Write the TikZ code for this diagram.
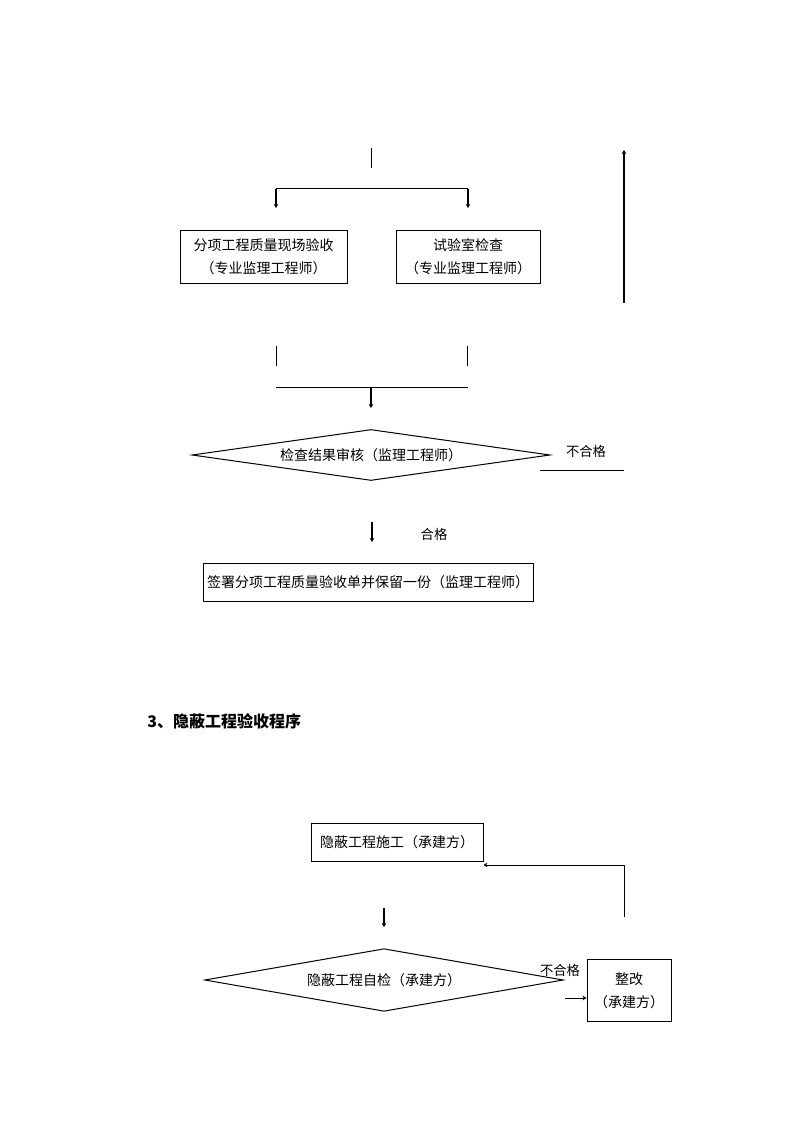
\documentclass[tikz,border=0pt]{standalone}
\usepackage{fontspec}
\setmainfont{Noto Sans CJK SC}
\usetikzlibrary{shapes.geometric,arrows.meta}
\tikzset{
  box/.style={draw,line width=0.75pt,inner sep=0pt,align=center,font=\fontsize{10.5pt}{17pt}\selectfont},
  dia/.style={draw,diamond,line width=0.75pt,inner sep=0pt,font=\fontsize{10.5pt}{17pt}\selectfont},
  lab/.style={inner sep=0pt,font=\fontsize{10pt}{12pt}\selectfont},
  ln/.style={line width=0.75pt},
  arr/.style={line width=1.3pt,-{Stealth[length=3pt,width=3.5pt]}},
}
\begin{document}
\begin{tikzpicture}[x=0.75pt,y=-0.75pt]
\useasboundingbox (0,0) rectangle (794,1123);
% --- upper chart
\coordinate (t1) at (371,148); \coordinate (t2) at (371,168);
\draw[ln] (t1) -- (t2);
\coordinate (sl) at (276,189); \coordinate (sr) at (468,189);
\draw[ln] (sl) -- (sr);
\node[box,minimum width=125.25pt,minimum height=39pt] (b1) at (263.5,257) {分项工程质量现场验收\\（专业监理工程师）};
\node[box,minimum width=108pt,minimum height=39pt] (b2) at (468,257) {试验室检查\\（专业监理工程师）};
\coordinate (al) at (276,208); \coordinate (ar) at (468,208);
\draw[arr] (sl) -- (al);
\draw[arr] (sr) -- (ar);
\coordinate (u1) at (624,303); \coordinate (u2) at (624,150);
\draw[arr] (u1) -- (u2);
\coordinate (m1) at (276,346); \coordinate (m2) at (276,366);
\coordinate (m3) at (467,346); \coordinate (m4) at (467,366);
\draw[ln] (m1) -- (m2);
\draw[ln] (m3) -- (m4);
\coordinate (jl) at (276,387); \coordinate (jr) at (468,387);
\draw[ln] (jl) -- (jr);
\node[dia,minimum width=268.5pt,minimum height=38.25pt,aspect=7] (d1) at (371,455) {检查结果审核（监理工程师）};
\coordinate (a3) at (371,388); \coordinate (a4) at (371,408);
\draw[arr] (a3) -- (a4);
\node[lab] (nf1) at (586,451) {不合格};
\coordinate (n1) at (540,470); \coordinate (n2) at (624,470);
\draw[ln] (n1) -- (n2);
\coordinate (a5) at (372,522); \coordinate (a6) at (372,542);
\draw[arr] (a5) -- (a6);
\node[lab] (ok1) at (434,534) {合格};
\node[box,minimum width=247.5pt,minimum height=28.5pt] (b3) at (368,582) {签署分项工程质量验收单并保留一份（监理工程师）};
% --- heading
\node[anchor=west,inner sep=0pt,font=\fontsize{12pt}{14pt}\selectfont\bfseries] (h) at (147,721) {3、隐蔽工程验收程序};
% --- lower chart
\node[box,minimum width=129pt,minimum height=28.5pt] (b4) at (397,842) {隐蔽工程施工（承建方）};
\coordinate (r1) at (624,917); \coordinate (r2) at (624,865);
\draw[line width=0.75pt,-{Stealth[length=3pt,width=3.5pt]}] (r1) -- (r2) -- (r2 -| b4.east);
\coordinate (a7) at (384,908); \coordinate (a8) at (384,927);
\draw[arr] (a7) -- (a8);
\node[dia,minimum width=269pt,minimum height=47pt,aspect=5.7] (d2) at (384,980) {隐蔽工程自检（承建方）};
\node[lab] (nf2) at (560,970) {不合格};
\node[box,minimum width=63pt,minimum height=47pt] (b5) at (629,990.5) {整改\\（承建方）};
\coordinate (c1) at (565,998);
\draw[line width=0.75pt,-{Stealth[length=3pt,width=3.5pt]}] (c1) -- (c1 -| b5.west);
\end{tikzpicture}
\end{document}
